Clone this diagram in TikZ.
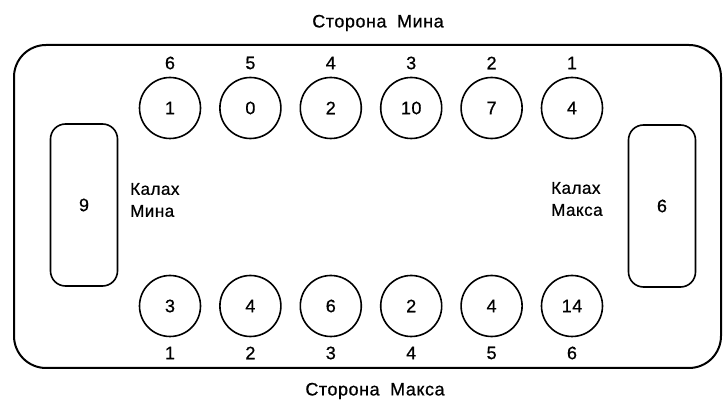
\documentclass[tikz,border=0pt]{standalone}
\usepackage{fontspec}
\setmainfont{Liberation Sans}[LetterSpace=3,FakeBold=0.7]
\begin{document}
\begin{tikzpicture}[x=1pt,y=-1pt,
  pit/.style={draw,circle,line width=1.6pt,minimum size=61pt,inner sep=0pt,font=\fontsize{18}{20}\selectfont},
  store/.style={draw,rectangle,rounded corners=15pt,line width=1.6pt,minimum width=67pt,minimum height=162pt,inner sep=0pt,font=\fontsize{18}{20}\selectfont},
  lbl/.style={inner sep=0pt,font=\fontsize{18}{20}\selectfont},
  side/.style={inner sep=0pt,font=\fontsize{18}{20}\selectfont},
  kal/.style={inner sep=0pt,align=left,anchor=west,font=\fontsize{17}{22}\selectfont}]
\useasboundingbox (0,0) rectangle (724,403);
\draw[line width=2pt,rounded corners=32pt] (14,45) rectangle (721,368);
% top side (Min)
\foreach \v/\n [count=\i from 0] in {1/6,0/5,2/4,10/3,7/2,4/1}{
  \node[pit] (t\n) at ({170+80.4*\i},108) {\v};
  \node[lbl] (tl\n) at ({170+80.4*\i},63) {\n};
}
% bottom side (Max)
\foreach \v/\n [count=\i from 0] in {3/1,4/2,6/3,2/4,4/5,14/6}{
  \node[pit] (b\n) at ({170+80.4*\i},306) {\v};
  \node[lbl] (bl\n) at ({170+80.4*\i},353) {\n};
}
\node[store] (kmin) at (84,205) {9};
\node[store] (kmax) at (662,206) {6};
\node[kal] (tmin) at (130,200) {Калах\\Мина};
\node[kal] (tmax) at (551,199) {Калах\\Макса};
\node[side] (smin) at (378,23) {Сторона\hspace{5pt} Мина};
\node[side] (smax) at (375,391) {Сторона\hspace{5pt} Макса};
\end{tikzpicture}
\end{document}
